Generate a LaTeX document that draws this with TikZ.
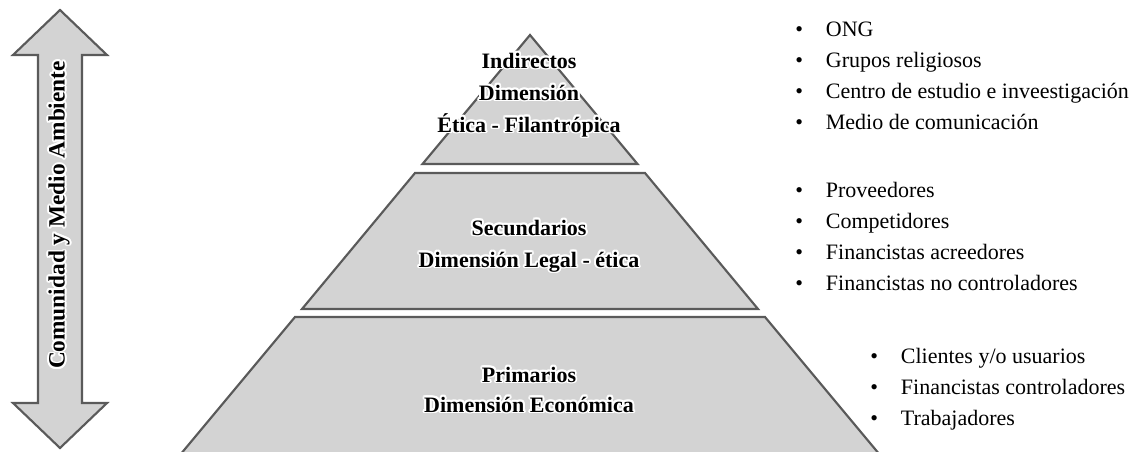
\documentclass[tikz,border=0pt]{standalone}
\usepackage{fontspec}
\setmainfont{Liberation Serif}
\usepackage{contour}
\contourlength{1.4pt}

\definecolor{tierfill}{HTML}{D3D3D3}
\definecolor{tierline}{HTML}{5A5A5A}

\tikzset{
  tier/.style={fill=tierfill, draw=tierline, line width=1.6pt},
  level/.style={font=\bfseries\fontsize{16.5}{18}\selectfont, anchor=base},
  item/.style={font=\fontsize{16.5}{18}\selectfont, anchor=base west, inner sep=0pt},
}
\newcommand{\bul}[1]{\makebox[23pt][l]{\textbullet}#1}
\newcommand{\halo}[1]{\contour{white}{#1}}

\begin{document}
\begin{tikzpicture}[x=0.75pt, y=-0.75pt]
		\useasboundingbox (0, 0) rectangle (1131, 451);
		\clip (0, 0) rectangle (1131, 451);

		% double arrow
		\draw[tier] (60, 10) -- (107, 55) -- (82, 55) -- (82, 403) -- (107, 403)
			-- (60, 448) -- (13, 403) -- (38, 403) -- (38, 55) -- (13, 55) -- cycle;
		\node[font=\bfseries\fontsize{17.5}{18}\selectfont, rotate=90] (comunidad) at (60, 215)
			{\halo{Comunidad y Medio Ambiente}};

		% pyramid
		\draw[tier] (530, 35) -- (637.5, 164) -- (422.5, 164) -- cycle;
		\draw[tier] (415, 173) -- (645, 173) -- (758, 309) -- (302, 309) -- cycle;
		\draw[tier] (295, 317) -- (765, 317) -- (880, 455) -- (180, 455) -- cycle;

		\node[level] (ind1) at (529, 68) {\halo{Indirectos}};
		\node[level] (ind2) at (529, 100) {\halo{Dimensión}};
		\node[level] (ind3) at (529, 132) {\halo{Ética - Filantrópica}};

		\node[level] (sec1) at (529, 235) {\halo{Secundarios}};
		\node[level] (sec2) at (529, 267) {\halo{Dimensión Legal - ética}};

		\node[level] (pri1) at (529, 382) {\halo{Primarios}};
		\node[level] (pri2) at (529, 412) {\halo{Dimensión Económica}};

		% lists
		\node[item] (ong) at (795, 36) {\bul{ONG}};
		\node[item] (grupos) at (795, 67) {\bul{Grupos religiosos}};
		\node[item] (centro) at (795, 98) {\bul{Centro de estudio e inveestigación}};
		\node[item] (medio) at (795, 129) {\bul{Medio de comunicación}};

		\node[item] (prov) at (795, 197) {\bul{Proveedores}};
		\node[item] (comp) at (795, 228) {\bul{Competidores}};
		\node[item] (acre) at (795, 259) {\bul{Financistas acreedores}};
		\node[item] (nocon) at (795, 290) {\bul{Financistas no controladores}};

		\node[item] (clien) at (870, 363) {\bul{Clientes y/o usuarios}};
		\node[item] (contr) at (870, 394) {\bul{Financistas controladores}};
		\node[item] (trab) at (870, 425) {\bul{Trabajadores}};

	\end{tikzpicture}
\end{document}
